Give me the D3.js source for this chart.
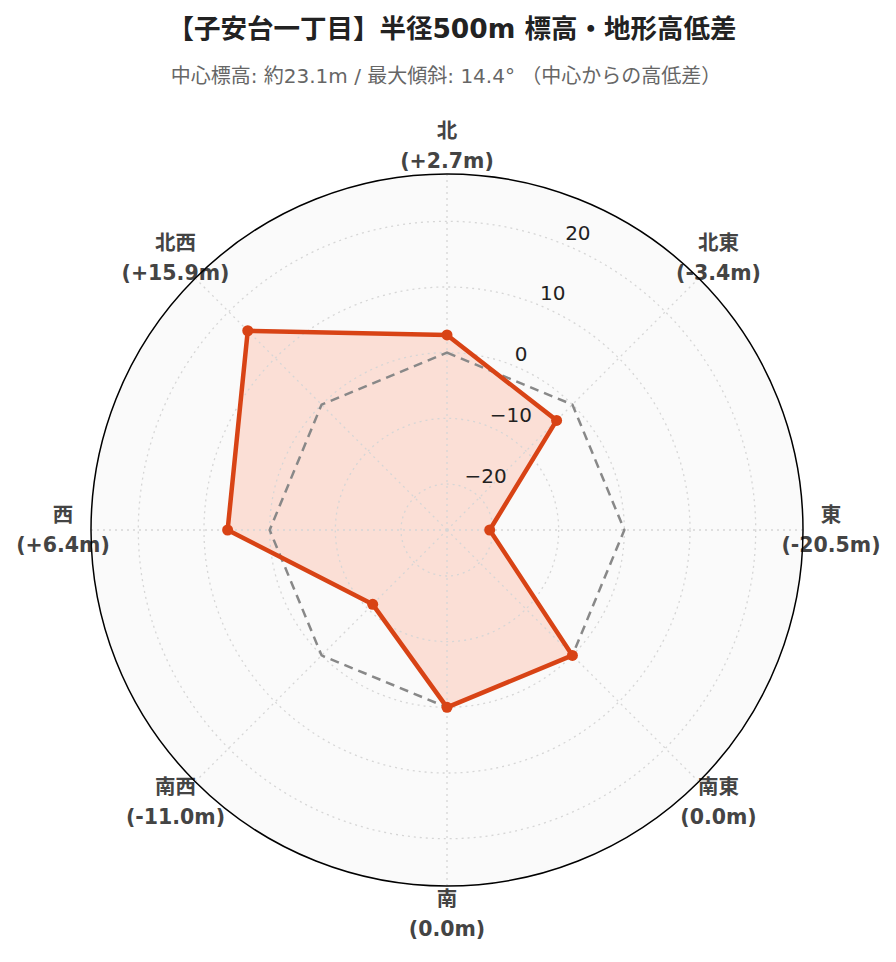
<!DOCTYPE html>
<html>
<head>
<meta charset="utf-8">
<script src="https://cdn.jsdelivr.net/npm/d3@7"></script>
<style>
  html, body { margin: 0; padding: 0; background: #ffffff; }
  svg { display: block; }
</style>
</head>
<body>
<div id="chart"></div>
<script>
// ---- data ----
const directions = ["北", "北東", "東", "南東", "南", "南西", "西", "北西"];
const diffs = [2.7, -3.4, -20.5, 0.0, 0.0, -11.0, 6.4, 15.9];
const diffLabels = ["(+2.7m)", "(-3.4m)", "(-20.5m)", "(0.0m)", "(0.0m)", "(-11.0m)", "(+6.4m)", "(+15.9m)"];
const referenceValues = [0, 0, 0, 0, 0, 0, 0, 0];
const radialTicks = [-20, -10, 0, 10, 20];
const radialTickLabels = ["−20", "−10", "0", "10", "20"];
const radialDomain = [-27.0, 27.2];
const titleText = "【子安台一丁目】半径500m 標高・地形高低差";
const subtitleText = "中心標高: 約23.1m / 最大傾斜: 14.4° （中心からの高低差）";

// ---- layout ----
const W = 896, H = 962;
const cx = 447, cy = 530, R = 356;
const FONT = "'DejaVu Sans', 'Noto Sans CJK JP', sans-serif";

const svg = d3.select("#chart").append("svg").attr("width", W).attr("height", H);

const r = d3.scaleLinear().domain(radialDomain).range([0, R]);
const ang = d3.scalePoint().domain(directions).range([0, 2 * Math.PI * 7 / 8]);

function pt(dir, v) {
  const a = ang(dir);
  const rr = r(v);
  return [cx + rr * Math.sin(a), cy - rr * Math.cos(a)];
}

// title
svg.append("text").attr("x", 452).attr("y", 38).attr("text-anchor", "middle")
  .attr("font-family", FONT).attr("font-weight", "bold").attr("font-size", 26.5).attr("fill", "#222")
  .text(titleText);
svg.append("text").attr("x", 446).attr("y", 83).attr("text-anchor", "middle")
  .attr("font-family", FONT).attr("font-size", 20).attr("fill", "#666")
  .text(subtitleText);

const g = svg.append("g");

// background
g.append("circle").attr("cx", cx).attr("cy", cy).attr("r", R).attr("fill", "#fafafa");

// data area
const lineGen = d3.line().curve(d3.curveLinearClosed);
const dataPts = directions.map((d, i) => pt(d, diffs[i]));
g.append("path").attr("d", lineGen(dataPts))
  .attr("fill", "rgba(255,87,34,0.17)").attr("stroke", "none");

// grid (above fill)
const grid = g.append("g");
radialTicks.forEach(t => {
  grid.append("circle").attr("cx", cx).attr("cy", cy).attr("r", r(t))
    .attr("fill", "none").attr("stroke", "#d6d6d6").attr("stroke-width", 1.3)
    .attr("stroke-dasharray", "2,4");
});
directions.forEach(d => {
  const [x, y] = pt(d, radialDomain[1]);
  grid.append("line").attr("x1", cx).attr("y1", cy).attr("x2", x).attr("y2", y)
    .attr("stroke", "#d6d6d6").attr("stroke-width", 1.3).attr("stroke-dasharray", "2,4");
});

// reference dashed polygon
const refPts = directions.map((d, i) => pt(d, referenceValues[i]));
g.append("path").attr("d", lineGen(refPts))
  .attr("fill", "none").attr("stroke", "#888").attr("stroke-width", 2.5)
  .attr("stroke-dasharray", "9,6");

// data line + markers
g.append("path").attr("d", lineGen(dataPts))
  .attr("fill", "none").attr("stroke", "#d84315").attr("stroke-width", 4.5)
  .attr("stroke-linejoin", "round");
g.selectAll("circle.mk").data(dataPts).enter().append("circle").attr("class", "mk")
  .attr("cx", d => d[0]).attr("cy", d => d[1]).attr("r", 5.5).attr("fill", "#d84315");

// radial tick labels along 22.5°
const tickAngle = Math.PI / 8;
radialTicks.forEach((t, i) => {
  const rr = r(t);
  const x = cx + rr * Math.sin(tickAngle);
  const y = cy - rr * Math.cos(tickAngle);
  g.append("text").attr("x", x).attr("y", y - 5).attr("text-anchor", "start")
    .attr("font-family", FONT).attr("font-size", 20).attr("fill", "#222")
    .text(radialTickLabels[i]);
});

// angular labels
const labelR = R + 28;
directions.forEach((d, i) => {
  const a = ang(d);
  const x = cx + labelR * Math.sin(a);
  const y = cy - labelR * Math.cos(a);
  const t = g.append("text").attr("text-anchor", "middle")
    .attr("font-family", FONT).attr("font-weight", "bold").attr("font-size", 20.5).attr("fill", "#444");
  t.append("tspan").attr("x", x).attr("y", y - 15).attr("dominant-baseline", "central").text(d);
  t.append("tspan").attr("x", x).attr("y", y + 15).attr("dominant-baseline", "central").text(diffLabels[i]);
});

// outer circle
g.append("circle").attr("cx", cx).attr("cy", cy).attr("r", R)
  .attr("fill", "none").attr("stroke", "#000").attr("stroke-width", 1.5);
</script>
</body>
</html>
